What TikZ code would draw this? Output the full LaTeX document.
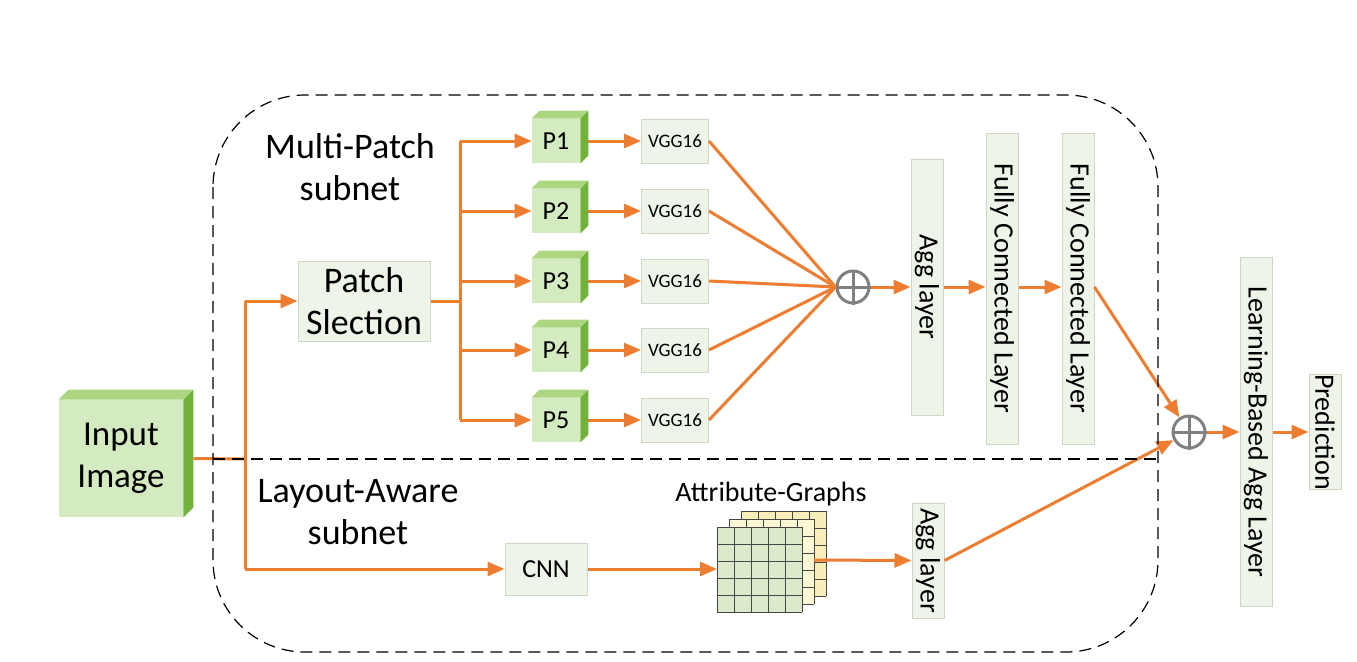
\documentclass[tikz,border=0pt]{standalone}
\usepackage{fontspec}
\setmainfont{Carlito}
\usepackage{graphicx}
\usetikzlibrary{arrows.meta,calc}
\definecolor{orng}{RGB}{237,125,49}
\definecolor{boxfill}{RGB}{239,244,232}
\definecolor{boxdraw}{RGB}{204,216,196}
\definecolor{cubefront}{RGB}{212,234,192}
\definecolor{cubetop}{RGB}{172,214,128}
\definecolor{cubeside}{RGB}{112,178,58}
\definecolor{opgray}{RGB}{128,128,128}
\definecolor{gridfront}{RGB}{218,233,202}
\definecolor{gridmid}{RGB}{250,247,212}
\definecolor{gridback}{RGB}{248,238,186}
\definecolor{gridline}{RGB}{70,70,70}
\newcommand{\drawcube}[2]{%
  \fill[cubetop] (#1.north west) -- ++(#2,-#2) -- ($(#1.north east)+(#2,-#2)$) -- (#1.north east) -- cycle;
  \fill[cubeside] (#1.north east) -- ++(#2,-#2) -- ($(#1.south east)+(#2,-#2)$) -- (#1.south east) -- cycle;}
\newcommand{\drawgrid}[3]{%
  \fill[#3] (#1,#2) rectangle ++(85,85);
  \foreach \k in {0,...,5} {
    \draw[gridline, line width=0.5pt] ($(#1,#2)+(17*\k,0)$) -- ++(0,85);
    \draw[gridline, line width=0.5pt] ($(#1,#2)+(0,17*\k)$) -- ++(85,0);
  }}
\begin{document}
\begin{tikzpicture}[x=0.5pt,y=-0.5pt,
  conn/.style={draw=orng, line width=1.5pt},
  arr/.style={conn, -{Triangle[length=8.5pt,width=7pt]}},
  box/.style={draw=boxdraw, fill=boxfill, line width=0.5pt, inner sep=0pt, align=center},
  cubebox/.style={fill=cubefront, inner sep=0pt, align=center},
  oplus/.style={circle, draw=opgray, line width=1.5pt, fill=white, minimum size=16pt, inner sep=0pt},
  region/.style={draw=black, line width=0.6pt, dash pattern=on 6pt off 3.5pt},
  bigtxt/.style={font=\fontsize{18}{21}\selectfont},
  lbltxt/.style={font=\fontsize{14}{17}\selectfont},
  ptxt/.style={font=\fontsize{13}{15}\selectfont},
  vggtxt/.style={font=\fontsize{9.5}{11}\selectfont}
]
\useasboundingbox (0,0) rectangle (1357,661);

% ---------- nodes ----------
\node[cubebox, minimum width=62pt, minimum height=58.5pt, font=\fontsize{17.5}{21}\selectfont] (in) at (121,458.5) {Input\\Image};
\drawcube{in}{10}

\node[box, bigtxt, minimum width=66pt, minimum height=40pt] (ps) at (364,301) {Patch\\Slection};

\foreach \i/\y in {1/141,2/211,3/281,4/350,5/420} {
  \node[cubebox, ptxt, minimum width=24pt, minimum height=22pt] (p\i) at (556,\y) {P\i};
  \drawcube{p\i}{8}
  \node[box, vggtxt, minimum width=33.5pt, minimum height=22pt] (v\i) at (675,\y) {VGG16};
}

\node[oplus] (op1) at (853,287) {};
\draw[opgray, line width=1.5pt] (op1.west) -- (op1.east) (op1.north) -- (op1.south);

\node[box, lbltxt, minimum width=16pt, minimum height=128pt] (agg1) at (927,287) {\rotatebox{-90}{Agg layer}};
\node[box, lbltxt, minimum width=16pt, minimum height=155.5pt] (fc1) at (1002,288.5) {\rotatebox{-90}{Fully Connected Layer}};
\node[box, lbltxt, minimum width=16pt, minimum height=155.5pt] (fc2) at (1078,288.5) {\rotatebox{-90}{Fully Connected Layer}};

\node[oplus] (op2) at (1189,432) {};
\draw[opgray, line width=1.5pt] (op2.west) -- (op2.east) (op2.north) -- (op2.south);

\node[box, lbltxt, minimum width=16pt, minimum height=174.5pt] (lba) at (1256,432) {\rotatebox{-90}{Learning-Based Agg Layer}};
\node[box, lbltxt, minimum width=16pt, minimum height=57.5pt] (pred) at (1325,432) {\rotatebox{-90}{Prediction}};

\node[box, ptxt, minimum width=41pt, minimum height=26pt] (cnn) at (546,569) {CNN};

% attribute graphs
\drawgrid{741}{511}{gridback}
\drawgrid{729}{519}{gridmid}
\drawgrid{717}{527}{gridfront}
\coordinate (gin) at (717,569);
\coordinate (gout) at (814,560);
\node[lbltxt] (agl) at (771,494) {Attribute-Graphs};

\node[box, lbltxt, minimum width=16pt, minimum height=57.5pt] (agg2) at (928,560.5) {\rotatebox{-90}{Agg layer}};

% text labels
\node[bigtxt, align=center] (mp) at (350,167) {Multi-Patch\\subnet};
\node[bigtxt, align=center] (la) at (358,512) {Layout-Aware\\subnet};

% ---------- connectors ----------
\coordinate (ja) at (245,459);
\coordinate (jb) at (245,301);
\coordinate (jc) at (245,569);
\coordinate (jd) at (460,301);
\coordinate (jt) at (460,141);
\coordinate (jbt) at (460,420);

\draw[conn] ($(in.east)+(10,0)$) -- (ja);
\draw[conn] (jb) -- (jc);
\draw[arr] (jb) -- (ps.west);
\draw[arr] (jc) -- (cnn.west);
\draw[conn] (ps.east) -- (jd);
\draw[conn] (jt) -- (jbt);
\foreach \i in {1,...,5} {
  \draw[arr] (jt |- p\i) -- (p\i.west);
  \draw[arr] ($(p\i.east)+(8,0)$) -- (v\i.west);
  \draw[conn] (v\i.east) -- (op1.west);
}
\draw[arr] (op1.east) -- (agg1.west);
\draw[arr] (agg1.east) -- (fc1.west |- agg1.east);
\draw[arr] (fc1.east |- agg1.east) -- (fc2.west |- agg1.east);
\draw[arr] (fc2.east |- agg1.east) -- (op2);
\draw[arr] (cnn.east) -- (gin);
\draw[arr] (gout) -- (agg2.west);
\draw[arr] (agg2.east) -- (op2);
\draw[arr] (op2.east) -- (lba.west);
\draw[arr] (lba.east) -- (pred.west);

% ---------- dashed region ----------
\draw[region, rounded corners=46pt] (213,95) rectangle (1158,652);
\draw[region] (213,459) -- (1158,459);

\end{tikzpicture}
\end{document}
